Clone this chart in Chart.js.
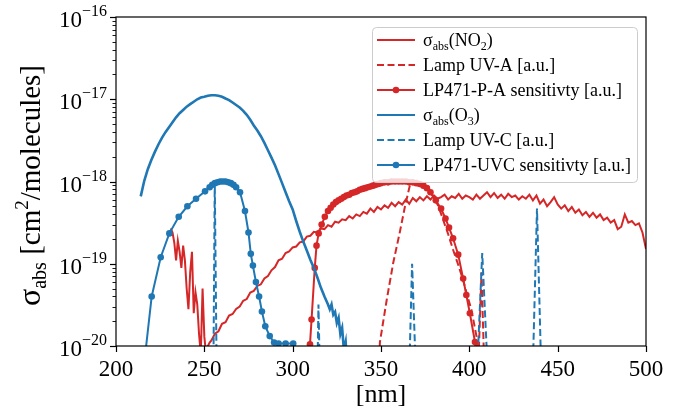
<!DOCTYPE html>
<html>
<head>
<meta charset="utf-8">
<script src="https://cdn.jsdelivr.net/npm/chart.js@4.4.1/dist/chart.umd.min.js"></script>
<style>
  html, body { margin: 0; padding: 0; background: #fff; }
  canvas { display: block; }
</style>
</head>
<body>
<canvas id="chart" width="681" height="412"></canvas>
<script>
// wavelengths in nm, cross sections in cm^2/molecule (lamps / sensitivities in a.u. on same axis)
const no2Wl = [231,232,233,234,235,236,237,238,239,240,241,242,243,244,245,246,247,248,249,250,251,252,253,
  254,256,258,260,262,264,266,268,270,272,274,276,278,280,282,284,286,288,290,292,294,296,298,300,
  302,304,306,308,310,312,314,316,318,320,322,324,326,328,330,332,334,336,338,340,342,344,346,348,350,
  352,354,356,358,360,362,364,366,368,370,372,374,376,378,380,382,384,386,388,390,392,394,396,398,400,
  402,404,406,408,410,412,414,416,418,420,422,424,426,428,430,432,434,436,438,440,442,444,446,448,450,
  452,454,456,458,460,462,464,466,468,470,472,474,476,478,480,482,484,486,488,490,492,494,496,498,500];
const no2Abs = [2.7e-19,2.4e-19,1.8e-19,1.1e-19,1.9e-19,1.4e-19,8.9e-20,1.66e-19,1.1e-19,5.0e-20,2.8e-20,7.9e-20,1.4e-19,2.5e-20,4.5e-20,3.2e-20,1.4e-20,8e-21,5.0e-20,1.3e-20,8e-21,1.0e-20,1.1e-20,
  1.17e-20,1.41e-20,1.51e-20,1.86e-20,1.95e-20,2.34e-20,2.45e-20,2.82e-20,3.02e-20,3.55e-20,3.72e-20,4.47e-20,4.68e-20,5.37e-20,5.62e-20,6.61e-20,7.08e-20,8.32e-20,9.12e-20,1.10e-19,1.15e-19,1.35e-19,1.41e-19,1.58e-19,
  1.62e-19,1.82e-19,1.86e-19,2.14e-19,2.19e-19,2.45e-19,2.40e-19,2.69e-19,2.63e-19,2.95e-19,2.82e-19,3.24e-19,3.16e-19,3.47e-19,3.39e-19,3.80e-19,3.55e-19,3.98e-19,3.80e-19,4.27e-19,4.07e-19,4.68e-19,4.27e-19,4.90e-19,4.57e-19,
  5.13e-19,4.79e-19,5.50e-19,5.01e-19,5.62e-19,5.25e-19,6.03e-19,5.37e-19,6.31e-19,5.75e-19,6.46e-19,5.89e-19,6.61e-19,6.03e-19,6.76e-19,6.17e-19,6.46e-19,6.92e-19,6.03e-19,6.61e-19,6.31e-19,7.08e-19,6.17e-19,6.76e-19,6.46e-19,
  6.03e-19,6.92e-19,6.17e-19,6.76e-19,7.41e-19,6.46e-19,7.24e-19,6.31e-19,6.92e-19,6.17e-19,7.08e-19,6.46e-19,6.76e-19,6.03e-19,6.61e-19,6.17e-19,6.92e-19,5.89e-19,6.76e-19,5.37e-19,6.03e-19,5.01e-19,5.62e-19,6.46e-19,5.25e-19,
  4.68e-19,5.13e-19,4.37e-19,4.90e-19,4.17e-19,4.57e-19,3.89e-19,4.27e-19,3.72e-19,4.17e-19,3.63e-19,3.98e-19,3.39e-19,3.63e-19,3.16e-19,3.39e-19,2.63e-19,2.82e-19,3.98e-19,3.16e-19,3.31e-19,2.95e-19,3.09e-19,2.40e-19,1.51e-19];

const lampAWl = [348,349.4,353.2,356.9,360.7,363.5,366.4,367.3,369,372,376,379.6,382.5,385.2,388,390.8,393.5,396.5,399,401.2,404.1,405,406.9,408.5];
const lampAVal = [3e-21,1.12e-20,3.6e-20,1.02e-19,2.45e-19,4.9e-19,9.1e-19,1.0e-18,9.5e-19,9.1e-19,7.9e-19,6.6e-19,5.0e-19,3.4e-19,2.3e-19,1.48e-19,1.0e-19,6.3e-20,4.0e-20,2.75e-20,1.29e-20,5e-21,7.9e-20,5e-21];

const lpaWl = [309.5,309.8,310.7,312.5,313.5,314.7,316.4,318.2,320,321.5,323,324.5,326,327.5,329,330.5,332,333.5,335,336.5,338,339.5,341,342.5,344,345.5,347,348.5,350,
  352,354,356,358,360,362,364,366,368,370,372,374,376,378,381,384,386.5,388.5,390.8,393.7,396.5,398.3,400.3,403.2,404.5];
const lpaVal = [5e-21,1.05e-20,2.1e-20,8.9e-20,1.66e-19,2.34e-19,3.0e-19,3.72e-19,4.37e-19,4.8e-19,5.25e-19,5.62e-19,5.9e-19,6.17e-19,6.46e-19,6.76e-19,6.9e-19,7.24e-19,7.41e-19,7.59e-19,7.94e-19,8.13e-19,8.3e-19,8.5e-19,8.7e-19,8.9e-19,9.1e-19,9.33e-19,9.55e-19,
  9.77e-19,9.77e-19,1.0e-18,1.0e-18,1.0e-18,1.0e-18,1.0e-18,9.77e-19,9.77e-19,9.55e-19,9.33e-19,8.9e-19,8.3e-19,7.41e-19,5.9e-19,4.68e-19,3.55e-19,2.75e-19,2.04e-19,1.29e-19,6.6e-20,4.17e-20,2.5e-20,1.12e-20,5e-21];

const o3Wl = [214,216,218,220,222,224,226,228,230,232,234,236,238,240,242,244,246,248,250,252,254,256,258,260,262,264,266,268,270,
  272,274,276,278,280,282,284,286,288,290,292,294,296,298,300,302,304,306,308,310,312,314,316,318,320,321,322,323,324,325,326,327,328,329,330,331];
const o3Abs = [6.6e-19,1.02e-18,1.41e-18,1.82e-18,2.29e-18,2.82e-18,3.39e-18,3.98e-18,4.57e-18,5.25e-18,6.03e-18,6.76e-18,7.41e-18,8.13e-18,8.71e-18,9.33e-18,1.0e-17,1.05e-17,1.07e-17,1.10e-17,1.12e-17,1.12e-17,1.10e-17,1.07e-17,1.02e-17,9.77e-18,9.12e-18,8.51e-18,7.94e-18,
  7.24e-18,6.46e-18,5.62e-18,4.79e-18,4.17e-18,3.55e-18,2.95e-18,2.40e-18,1.95e-18,1.58e-18,1.23e-18,9.55e-19,7.41e-19,5.75e-19,4.57e-19,3.31e-19,2.45e-19,1.86e-19,1.45e-19,1.12e-19,8.9e-20,6.8e-20,5.1e-20,4.0e-20,3.2e-20,2.8e-20,3.2e-20,2.4e-20,2.6e-20,1.9e-20,2.2e-20,1.4e-20,1.66e-20,8.9e-21,1.12e-20,5e-21];

const lampCWl = [254.9,255.9,257.3,313.5,314.6,316.0,366.0,367.6,369.7,404.4,407.3,410.4,435.9,438.3,440.7];
const lampCVal = [1e-21,1.0e-18,1e-21,1e-21,3.2e-20,1e-21,5e-21,1.0e-19,5e-21,5e-21,1.35e-19,5e-21,5e-21,4.7e-19,5e-21];

const lpcWl = [215.5,220.2,225.3,230.2,235.5,240.4,245.3,250.4,253,254.5,256,257.5,259,260.5,262,263.5,265,266.5,268,270.2,
  273,275,276.3,277.5,279.2,281,282.6,284.5,287,289.5,292,296,300.3];
const lpcVal = [5e-21,4.0e-20,1.2e-19,2.34e-19,3.72e-19,5.0e-19,6.17e-19,7.59e-19,8.5e-19,9.1e-19,9.55e-19,9.8e-19,1.0e-18,1.0e-18,1.0e-18,9.8e-19,9.55e-19,9.1e-19,8.5e-19,7.4e-19,
  4.37e-19,2.4e-19,1.32e-19,9.5e-20,6.0e-20,4.0e-20,2.63e-20,1.74e-20,1.32e-20,1.1e-20,1.07e-20,1.07e-20,1.07e-20];

const xTicks = [200, 250, 300, 350, 400, 450, 500];
const yTickExps = [-20, -19, -18, -17, -16];
const legendLabels = [
  [['σ', 18, 0], ['abs', 12, 4], ['(NO', 18, 0], ['2', 12, 4], [')', 18, 0]],
  [['Lamp UV-A [a.u.]', 18, 0]],
  [['LP471-P-A sensitivty [a.u.]', 18, 0]],
  [['σ', 18, 0], ['abs', 12, 4], ['(O', 18, 0], ['3', 12, 4], [')', 18, 0]],
  [['Lamp UV-C [a.u.]', 18, 0]],
  [['LP471-UVC sensitivty [a.u.]', 18, 0]]
];

const RED = '#d62728';
const BLUE = '#1f77b4';
const FONT = '"Liberation Serif", "Times New Roman", serif';
const DASH = [7, 3.5];

const pts = (xs, ys) => xs.map((x, i) => ({ x: x, y: ys[i] }));

function richText(ctx, parts, x, y, align) {
  let total = 0;
  const widths = parts.map(p => {
    ctx.font = p[1] + 'px ' + FONT;
    const w = ctx.measureText(p[0]).width;
    total += w;
    return w;
  });
  let cx = align === 'center' ? x - total / 2 : align === 'right' ? x - total : x;
  parts.forEach((p, i) => {
    ctx.font = p[1] + 'px ' + FONT;
    ctx.fillText(p[0], cx, y + p[2]);
    cx += widths[i];
  });
}

const styles = [
  { color: RED, dash: [], marker: false, width: 2 },
  { color: RED, dash: DASH, marker: false, width: 2 },
  { color: RED, dash: [], marker: true, width: 2 },
  { color: BLUE, dash: [], marker: false, width: 2.6 },
  { color: BLUE, dash: DASH, marker: false, width: 2 },
  { color: BLUE, dash: [], marker: true, width: 2 }
];

const decor = {
  id: 'decor',
  afterDraw(chart) {
    const ctx = chart.ctx;
    const a = chart.chartArea;
    const xs = chart.scales.x, ys = chart.scales.y;
    ctx.save();
    ctx.strokeStyle = '#000';
    ctx.fillStyle = '#000';
    ctx.lineWidth = 1.2;
    ctx.setLineDash([]);
    ctx.strokeRect(a.left, a.top, a.right - a.left, a.bottom - a.top);

    // x ticks
    xTicks.forEach(v => {
      const px = Math.round(xs.getPixelForValue(v)) + 0.5;
      ctx.beginPath(); ctx.moveTo(px, a.bottom); ctx.lineTo(px, a.bottom + 6); ctx.stroke();
    });
    // y ticks, major and minor
    yTickExps.forEach(e => {
      const py = Math.round(ys.getPixelForValue(Math.pow(10, e))) + 0.5;
      ctx.lineWidth = 1.2;
      ctx.beginPath(); ctx.moveTo(a.left, py); ctx.lineTo(a.left - 6, py); ctx.stroke();
      ctx.textBaseline = 'alphabetic';
      richText(ctx, [['10', 23, 0], ['\u2212' + Math.abs(e), 16, -10.5]], a.left - 9, py + 9, 'right');
      if (e < -16) {
        ctx.lineWidth = 0.9;
        for (let m = 2; m <= 9; m++) {
          const q = Math.round(ys.getPixelForValue(m * Math.pow(10, e))) + 0.5;
          ctx.beginPath(); ctx.moveTo(a.left, q); ctx.lineTo(a.left - 3.5, q); ctx.stroke();
        }
      }
    });

    // axis titles
    ctx.textBaseline = 'alphabetic';
    richText(ctx, [['[nm]', 26, 0]], (a.left + a.right) / 2, 402, 'center');
    ctx.save();
    ctx.translate(40, (a.top + a.bottom) / 2 + 4);
    ctx.rotate(-Math.PI / 2);
    richText(ctx, [['σ', 32, 0], ['abs', 20, 6], [' [cm', 29, 0], ['2', 19, -12], ['/molecules]', 29, 0]], 0, 0, 'center');
    ctx.restore();

    // legend
    const lx = 372, ly = 27, lw = 265, lh = 155;
    ctx.beginPath();
    ctx.roundRect(lx + 0.5, ly + 0.5, lw, lh, 4);
    ctx.fillStyle = 'rgba(255,255,255,0.8)';
    ctx.fill();
    ctx.strokeStyle = '#cccccc';
    ctx.lineWidth = 1;
    ctx.stroke();
    legendLabels.forEach((lab, i) => {
      const y = ly + 13 + i * 25;
      const st = styles[i];
      ctx.strokeStyle = st.color;
      ctx.lineWidth = 2;
      ctx.setLineDash(st.dash);
      ctx.beginPath(); ctx.moveTo(377, y); ctx.lineTo(415, y); ctx.stroke();
      ctx.setLineDash([]);
      if (st.marker) {
        ctx.fillStyle = st.color;
        ctx.beginPath(); ctx.arc(396, y, 3.3, 0, Math.PI * 2); ctx.fill();
      }
      ctx.fillStyle = '#000';
      richText(ctx, lab, 423, y + 6, 'left');
    });
    ctx.restore();
  }
};

const lineSet = (data, st, order) => ({
  data: data,
  borderColor: st.color,
  backgroundColor: st.color,
  borderWidth: st.width,
  borderDash: st.dash,
  pointRadius: st.marker ? 3.3 : 0,
  pointBorderWidth: 0,
  pointBackgroundColor: st.color,
  tension: 0,
  fill: false,
  order: order
});

new Chart(document.getElementById('chart').getContext('2d'), {
  type: 'line',
  data: {
    datasets: [
      lineSet(pts(no2Wl, no2Abs), styles[0], 6),
      lineSet(pts(lampAWl, lampAVal), styles[1], 5),
      lineSet(pts(lpaWl, lpaVal), styles[2], 4),
      lineSet(pts(o3Wl, o3Abs), styles[3], 3),
      lineSet(pts(lampCWl, lampCVal), styles[4], 2),
      lineSet(pts(lpcWl, lpcVal), styles[5], 1)
    ]
  },
  options: {
    responsive: false,
    animation: false,
    devicePixelRatio: 1,
    layout: { padding: { left: 0, top: 17, right: 35, bottom: 0 } },
    plugins: { legend: { display: false }, tooltip: { enabled: false } },
    scales: {
      x: {
        type: 'linear', min: 200, max: 500,
        afterBuildTicks: s => { s.ticks = xTicks.map(v => ({ value: v })); },
        ticks: { font: { family: FONT, size: 23 }, color: '#000', padding: 10, maxRotation: 0, autoSkip: false },
        grid: { display: false, drawTicks: false },
        border: { display: false },
        afterFit: s => { s.height = 66; }
      },
      y: {
        type: 'logarithmic', min: 1e-20, max: 1e-16,
        ticks: { display: false },
        grid: { display: false, drawTicks: false },
        border: { display: false },
        afterFit: s => { s.width = 116; }
      }
    }
  },
  plugins: [decor]
});
</script>
</body>
</html>
